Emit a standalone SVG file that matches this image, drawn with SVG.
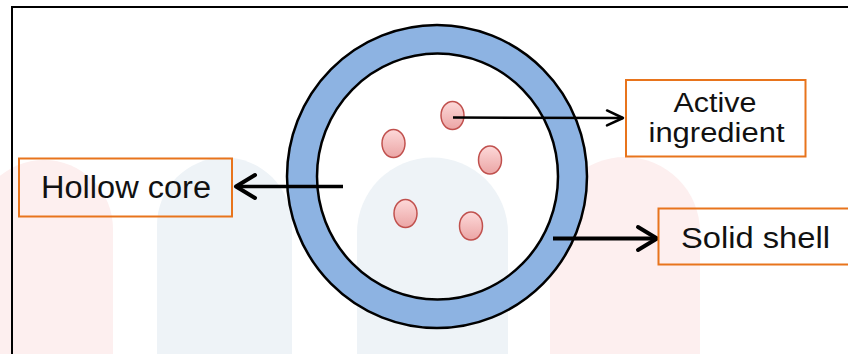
<svg xmlns="http://www.w3.org/2000/svg" width="848" height="354" viewBox="0 0 848 354">
  <style>
    .frame { fill: none; stroke: #000; stroke-width: 2; }
    .wm-pink { fill: #fdefef; }
    .wm-blue { fill: #eef3f7; }
    .ring { fill: #8db3e2; fill-rule: evenodd; }
    .ring-edge { fill: none; stroke: #000; stroke-width: 2.5; }
    .dot { fill: url(#dotFill); stroke: #c0504d; stroke-width: 1.5; }
    .box { fill: none; stroke: #e8741c; stroke-width: 2; }
    .label { font-family: "Liberation Sans", Arial, sans-serif; fill: #111; }
    .conn { stroke: #000; fill: none; }
  </style>
  <defs>
    <linearGradient id="dotFill" x1="0" y1="0" x2="0" y2="1">
      <stop offset="0" stop-color="#fdd9d9"/>
      <stop offset="1" stop-color="#eba5a5"/>
    </linearGradient>
    <marker id="headSmall" markerUnits="userSpaceOnUse" viewBox="-20 -10 22 20" refX="0" refY="0" markerWidth="22" markerHeight="20" orient="auto" overflow="visible">
      <path d="M-16,-7.5 L0,0 L-16,7.5" fill="none" stroke="#000" stroke-width="2.5" stroke-linecap="round" stroke-linejoin="round"/>
    </marker>
    <marker id="headLarge" markerUnits="userSpaceOnUse" viewBox="-24 -14 26 28" refX="0" refY="0" markerWidth="26" markerHeight="28" orient="auto" overflow="visible">
      <path d="M-19,-11.5 L0,0 L-19,11.5" fill="none" stroke="#000" stroke-width="4" stroke-linecap="round" stroke-linejoin="round"/>
    </marker>
  </defs>

  <!-- pale arches in the background -->
  <g id="background">
    <path class="wm-pink" d="M-25,354 V229 A69,69 0 0 1 113,229 V354 Z"/>
    <path class="wm-blue" d="M157,354 V225 A67.5,67.5 0 0 1 292,225 V354 Z"/>
    <path class="wm-blue" d="M357,354 V233 A75.5,75.5 0 0 1 508,233 V354 Z"/>
    <path class="wm-pink" d="M550,354 V232 A75,75 0 0 1 700,232 V354 Z"/>
  </g>

  <path class="frame" d="M12,354 V7 H848"/>

  <!-- capsule: solid shell around a hollow core -->
  <g id="capsule">
    <path class="ring" d="M287,176.5 a150,151.5 0 1,0 300,0 a150,151.5 0 1,0 -300,0 Z M317,176.5 a120.5,123 0 1,0 241,0 a120.5,123 0 1,0 -241,0 Z"/>
    <ellipse class="ring-edge" cx="437" cy="176.5" rx="150" ry="151.5"/>
    <ellipse class="ring-edge" cx="437.5" cy="176.5" rx="120.5" ry="123"/>
  </g>

  <!-- active ingredient particles -->
  <g id="particles">
    <ellipse class="dot" cx="452.5" cy="115.5" rx="11.5" ry="14"/>
    <ellipse class="dot" cx="393.5" cy="143.5" rx="11.5" ry="14"/>
    <ellipse class="dot" cx="490" cy="160" rx="11.5" ry="14"/>
    <ellipse class="dot" cx="405.5" cy="213.5" rx="11.5" ry="14"/>
    <ellipse class="dot" cx="471" cy="226" rx="11.5" ry="14"/>
  </g>

  <!-- connectors -->
  <g id="connectors">
    <line class="conn" x1="453" y1="117.5" x2="623" y2="118" stroke-width="2.5" marker-end="url(#headSmall)"/>
    <line class="conn" x1="343" y1="186.5" x2="236" y2="186.5" stroke-width="3.5" marker-end="url(#headLarge)"/>
    <line class="conn" x1="553" y1="238.5" x2="657" y2="238.5" stroke-width="4" marker-end="url(#headLarge)"/>
  </g>

  <g id="hollow-core">
    <rect class="box" x="19" y="158.5" width="213" height="58"/>
    <text class="label" x="41" y="198" font-size="31" textLength="170" lengthAdjust="spacingAndGlyphs">Hollow core</text>
  </g>

  <g id="active-ingredient">
    <rect class="box" x="626" y="80" width="179.5" height="76.5"/>
    <text class="label" x="673.5" y="112" font-size="27" textLength="83" lengthAdjust="spacingAndGlyphs">Active</text>
    <text class="label" x="648.5" y="142" font-size="27" textLength="136" lengthAdjust="spacingAndGlyphs">ingredient</text>
  </g>

  <g id="solid-shell">
    <rect class="box" x="658.5" y="208.5" width="200" height="56"/>
    <text class="label" x="681" y="248" font-size="29" textLength="149" lengthAdjust="spacingAndGlyphs">Solid shell</text>
  </g>
</svg>
